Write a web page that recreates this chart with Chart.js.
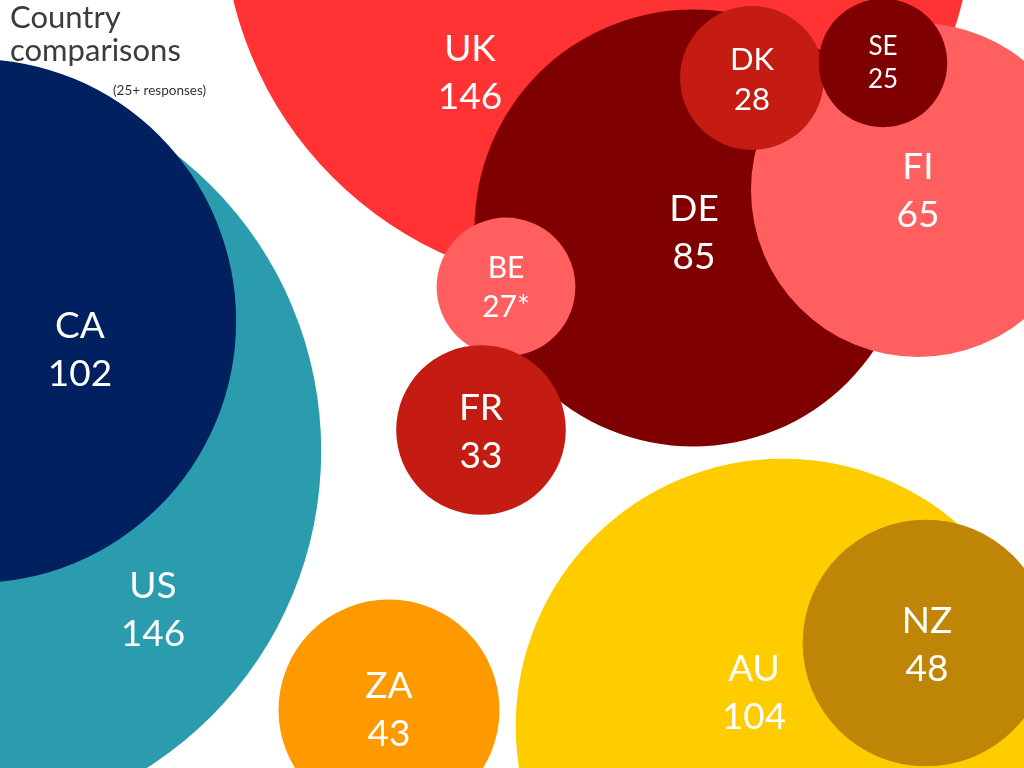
<!DOCTYPE html>
<html>
<head>
<meta charset="utf-8">
<script src="https://cdn.jsdelivr.net/npm/chart.js@4"></script>
<style>
  body { margin: 0; background: #fff; font-family: Lato, "Open Sans", sans-serif; }
  #wrap { position: relative; width: 1024px; height: 768px; overflow: hidden; }
  #title { position: absolute; left: 10px; top: 0px; font-size: 31px; line-height: 33px; color: #3c3c3c; z-index: 2; }
  #sub { position: absolute; left: 113px; top: 82px; font-size: 13.5px; color: #333; z-index: 2; }
</style>
</head>
<body>
<div id="wrap">
  <canvas id="bubbles" width="1024" height="768"></canvas>
  <div id="title">Country<br>comparisons</div>
  <div id="sub">(25+ responses)</div>
</div>
<script>
// countries in drawing order (first is at the back)
const countries = ["US", "CA", "UK", "DE", "FI", "DK", "SE", "BE", "FR", "ZA", "AU", "NZ"];
const responses = [146, 102, 146, 85, 65, 28, 25, 27, 33, 43, 104, 48];
const notes = ["", "", "", "", "", "", "", "*", "", "", "", ""];
const centerX = [-54, -26, 598, 693, 918, 752, 883, 506, 481, 389, 783, 926];
const centerY = [451, 321, -88, 228, 190, 78, 63, 287, 430, 710, 726, 643];

const colours = ["#2a9cad", "#002060", "#ff3333", "#7f0000", "#ff5f5f", "#c41b12",
                 "#7f0000", "#ff5f5f", "#c41b12", "#ff9900", "#ffcc00", "#bf8507"];
const pxPerResponse = 2.57;

// where the two-line labels sit and how big they are
const labelPos = [[153, 610], [80, 350], [470, 73], [694, 233], [918, 191], [752, 80],
                  [883, 63], [506, 288], [481, 432], [389, 710], [754, 693], [927, 645]];
const labelSize = [37, 37, 37, 37, 37, 31, 26, 30, 37, 37, 37, 37];

let points = countries.map(function (c, i) {
    return { x: centerX[i], y: centerY[i], r: responses[i] * pxPerResponse };
});

const bubbleLabels = {
    id: "bubbleLabels",
    afterDatasetsDraw(chart) {
        let ctx = chart.ctx;
        let xs = chart.scales.x, ys = chart.scales.y;
        ctx.save();
        ctx.fillStyle = "#fff";
        ctx.textAlign = "center";
        ctx.textBaseline = "middle";
        countries.forEach(function (c, i) {
            let size = labelSize[i];
            let px = xs.getPixelForValue(labelPos[i][0]);
            let py = ys.getPixelForValue(labelPos[i][1]);
            let gap = size * 0.64;
            ctx.font = size + "px Lato, 'Open Sans', sans-serif";
            ctx.fillText(c, px, py - gap);
            ctx.fillText(responses[i] + notes[i], px, py + gap);
        });
        ctx.restore();
    }
};

new Chart("bubbles", {
    type: "bubble",
    data: {
        labels: countries,
        datasets: [{
            data: points,
            backgroundColor: colours,
            borderWidth: 0,
            hoverBorderWidth: 0,
            clip: false
        }]
    },
    options: {
        responsive: false,
        animation: false,
        events: [],
        layout: { autoPadding: false, padding: 0 },
        plugins: {
            legend: { display: false },
            tooltip: { enabled: false }
        },
        scales: {
            x: { type: "linear", min: 0, max: 1024, display: false },
            y: { type: "linear", min: 0, max: 768, reverse: true, display: false }
        }
    },
    plugins: [bubbleLabels]
});
</script>
</body>
</html>
